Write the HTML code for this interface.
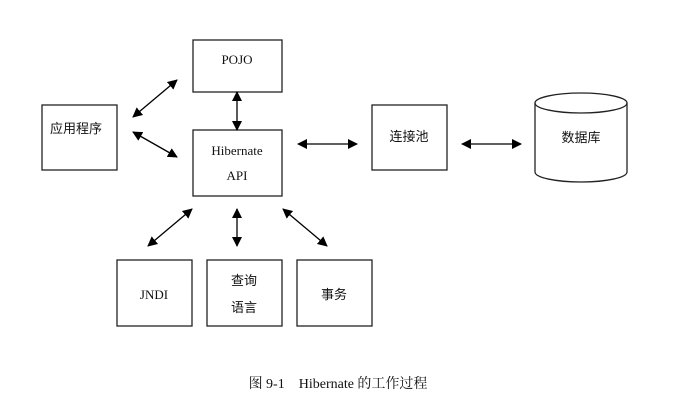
<!DOCTYPE html>
<html><head><meta charset="utf-8"><style>
body{margin:0;background:#fff;}
svg{display:block}
text{font-family:"Liberation Serif","Noto Serif CJK SC",serif;font-size:13px;fill:#111}
.c{font-family:"Liberation Sans","Noto Sans CJK SC",sans-serif;}
</style></head><body>
<svg width="677" height="401" viewBox="0 0 677 401" xmlns="http://www.w3.org/2000/svg">
<defs>
<marker id="a" viewBox="0 0 10 10" refX="9" refY="5" markerWidth="10" markerHeight="10" markerUnits="userSpaceOnUse" orient="auto-start-reverse">
<path d="M0,0 L10,5 L0,10 z" fill="#000"/></marker>
</defs>
<g fill="none" stroke="#222" stroke-width="1.3">
<rect x="193" y="40" width="89" height="52"/>
<rect x="42" y="105" width="75" height="65"/>
<rect x="193" y="130" width="89" height="66"/>
<rect x="372" y="105" width="75" height="65"/>
<rect x="117" y="260" width="75" height="66"/>
<rect x="207" y="260" width="75" height="66"/>
<rect x="297" y="260" width="75" height="66"/>
<path d="M535,103 L535,172 A46,10 0 0 0 627,172 L627,103"/>
<ellipse cx="581" cy="103" rx="46" ry="10"/>
</g>
<g stroke="#000" stroke-width="1.3" marker-start="url(#a)" marker-end="url(#a)">
<line x1="133" y1="117" x2="177" y2="80"/>
<line x1="133" y1="132" x2="177" y2="157"/>
<line x1="237" y1="92" x2="237" y2="130"/>
<line x1="298" y1="144" x2="357" y2="144"/>
<line x1="462" y1="144" x2="521" y2="144"/>
<line x1="148" y1="246" x2="192" y2="209"/>
<line x1="237" y1="209" x2="237" y2="246"/>
<line x1="283" y1="209" x2="327" y2="246"/>
</g>
<text x="237" y="64" text-anchor="middle" font-size="12">POJO</text>
<text x="50" y="133" class="c">应用程序</text>
<text x="237" y="155" text-anchor="middle">Hibernate</text>
<text x="237" y="180" text-anchor="middle">API</text>
<text x="409" y="141" text-anchor="middle" class="c">连接池</text>
<text x="581" y="142" text-anchor="middle" class="c">数据库</text>
<text x="154" y="299" text-anchor="middle">JNDI</text>
<text x="244" y="285" text-anchor="middle" class="c">查询</text>
<text x="244" y="312" text-anchor="middle" class="c">语言</text>
<text x="334" y="299" text-anchor="middle" class="c">事务</text>
<text x="338" y="388" text-anchor="middle" style="font-size:14px" xml:space="preserve">图 9-1    Hibernate 的工作过程</text>
</svg>
</body></html>
